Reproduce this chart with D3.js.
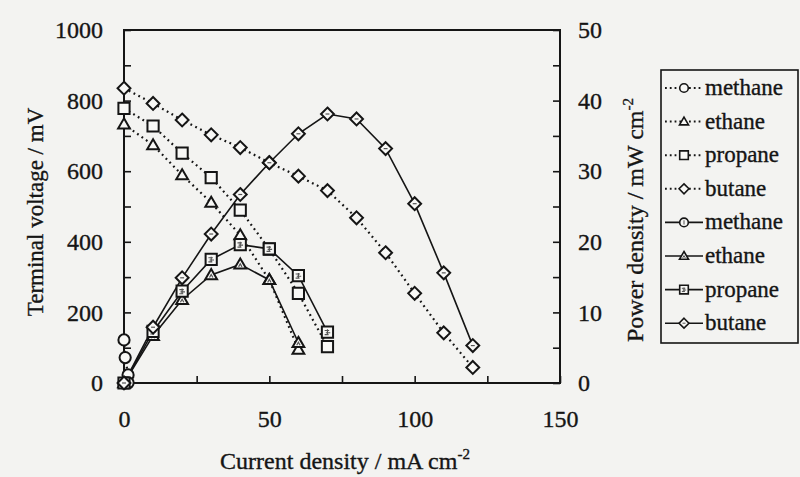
<!DOCTYPE html>
<html><head><meta charset="utf-8">
<script src="https://cdn.jsdelivr.net/npm/d3@7"></script>
<style>
body{margin:0;background:#f3f3f1;}
</style>
</head><body><svg id="c" width="800" height="477"></svg>
<script>
// ---- data ----
const methaneCurrent = [0, 0.4, 1.4];
const methaneVoltage = [122, 72, 23];
const methanePower   = [0, 0.03, 0.03];

const ethaneCurrent = [0, 10, 20, 30, 40, 50, 60];
const ethaneVoltage = [733, 674, 589, 511, 419, 292, 95];
const ethanePower   = [0, 6.7, 11.8, 15.3, 16.8, 14.6, 5.7];

const propaneCurrent = [0, 10, 20, 30, 40, 50, 60, 70];
const propaneVoltage = [778, 728, 651, 582, 490, 379, 254, 103];
const propanePower   = [0, 7.3, 13.0, 17.5, 19.6, 19.0, 15.2, 7.2];

const butaneCurrent = [0, 10, 20, 30, 40, 50, 60, 70, 80, 90, 100, 110, 120];
const butaneVoltage = [835, 792, 745, 703, 667, 624, 586, 545, 468, 369, 254, 142, 44];
const butanePower   = [0, 7.9, 14.9, 21.1, 26.7, 31.2, 35.3, 38.1, 37.4, 33.2, 25.4, 15.6, 5.3];

const xTicks = [0, 25, 50, 75, 100, 125, 150];
const xLabels = [0, 50, 100, 150];
const yLeftTicks = [0,100,200,300,400,500,600,700,800,900,1000];
const yLeftLabels = [0,200,400,600,800,1000];
const yRightTicks = [0,5,10,15,20,25,30,35,40,45,50];
const yRightLabels = [0,10,20,30,40,50];

const seriesV = [
  {name:"methane", shape:"circle", x:methaneCurrent, y:methaneVoltage},
  {name:"ethane", shape:"triangle", x:ethaneCurrent, y:ethaneVoltage},
  {name:"propane", shape:"square", x:propaneCurrent, y:propaneVoltage},
  {name:"butane", shape:"diamond", x:butaneCurrent, y:butaneVoltage}
];
const seriesP = [
  {name:"methane", shape:"circle", x:methaneCurrent, y:methanePower},
  {name:"ethane", shape:"triangle", x:ethaneCurrent, y:ethanePower},
  {name:"propane", shape:"square", x:propaneCurrent, y:propanePower},
  {name:"butane", shape:"diamond", x:butaneCurrent, y:butanePower}
];

// ---- layout ----
const FONT = "Liberation Serif, DejaVu Serif, Times New Roman, serif";
const L = 124, R = 560, T = 30, B = 383;
const svg = d3.select("#c");
svg.append("rect").attr("width",800).attr("height",477).attr("fill","#f3f3f1");

const x = d3.scaleLinear().domain([0,150]).range([L,R]);
const yL = d3.scaleLinear().domain([0,1000]).range([B,T]);
const yR = d3.scaleLinear().domain([0,50]).range([B,T]);

const ink = "#151515";
const fs = 24;
const textStroke = 0.35;

function styleAxis(g){
  g.select(".domain").remove();
  g.attr("font-family",FONT).attr("font-size",fs);
  g.selectAll(".tick line").attr("stroke",ink).attr("stroke-width",1.6);
  g.selectAll(".tick text").attr("font-size",fs).attr("fill",ink).attr("font-family",FONT)
    .attr("stroke",ink).attr("stroke-width",textStroke);
}

svg.append("g").attr("transform",`translate(0,${B})`)
  .call(d3.axisBottom(x).tickValues(xTicks).tickSize(-7).tickPadding(27)
    .tickFormat(d => xLabels.includes(d) ? d : ""))
  .call(styleAxis);

svg.append("g").attr("transform",`translate(${L},0)`)
  .call(d3.axisLeft(yL).tickValues(yLeftTicks).tickSize(-7).tickPadding(21)
    .tickFormat(d => yLeftLabels.includes(d) ? d : ""))
  .call(styleAxis);

svg.append("g").attr("transform",`translate(${R},0)`)
  .call(d3.axisRight(yR).tickValues(yRightTicks).tickSize(-7).tickPadding(18)
    .tickFormat(d => yRightLabels.includes(d) ? d : ""))
  .call(styleAxis);

// frame
svg.append("rect").attr("x",L).attr("y",T).attr("width",R-L).attr("height",B-T)
  .attr("fill","none").attr("stroke",ink).attr("stroke-width",2);

// ---- marker shapes ----
function shapePath(shape, s){
  switch(shape){
    case "circle": return `M${-s},0A${s},${s} 0 1,0 ${s},0A${s},${s} 0 1,0 ${-s},0Z`;
    case "triangle": return `M0,${-s*1.05}L${s*1.05},${s*0.75}L${-s*1.05},${s*0.75}Z`;
    case "square": return `M${-s},${-s}H${s}V${s}H${-s}Z`;
    case "diamond": return `M0,${-s*1.15}L${s*1.15},0L0,${s*1.15}L${-s*1.15},0Z`;
  }
}
function innerPath(shape, s){
  switch(shape){
    case "circle": return `M0,${-s*0.5}V${s*0.5}`;
    case "triangle": return `M${-s*0.3},${s*0.45}L0,${-s*0.1}L${s*0.3},${s*0.45}`;
    case "square": return `M${-s*0.5},${-s*0.3}H${s*0.3}M${-s*0.3},${s*0.1}H${s*0.5}M${-s*0.5},${s*0.45}H${s*0.2}M0,${-s*0.5}V${s*0.5}`;
    case "diamond": return `M${-s*0.35},0H${s*0.35}`;
  }
}

const plotG = svg.append("g");
const lineV = d3.line().x(d=>x(d[0])).y(d=>yL(d[1]));
const lineP = d3.line().x(d=>x(d[0])).y(d=>yR(d[1]));

seriesV.forEach(s=>{
  const pts = s.x.map((v,i)=>[v, s.y[i]]);
  plotG.append("path").datum(pts).attr("d",lineV).attr("fill","none")
    .attr("stroke",ink).attr("stroke-width",2.2).attr("stroke-dasharray","1.8,3.6");
});
seriesP.forEach(s=>{
  const pts = s.x.map((v,i)=>[v, s.y[i]]);
  plotG.append("path").datum(pts).attr("d",lineP).attr("fill","none")
    .attr("stroke",ink).attr("stroke-width",1.6);
});

const ms = 5.6;
seriesV.forEach(s=>{
  const pts = s.x.map((v,i)=>[v, s.y[i]]);
  plotG.selectAll(null).data(pts).enter().append("path")
    .attr("transform",d=>`translate(${x(d[0])},${yL(d[1])})`)
    .attr("d",shapePath(s.shape, ms)).attr("fill","#f8f8f6")
    .attr("stroke",ink).attr("stroke-width",2);
});
seriesP.forEach(s=>{
  const pts = s.x.map((v,i)=>[v, s.y[i]]);
  const g = plotG.selectAll(null).data(pts).enter().append("g")
    .attr("transform",d=>`translate(${x(d[0])},${yR(d[1])})`);
  g.append("path").attr("d",shapePath(s.shape, ms)).attr("fill","#f8f8f6")
    .attr("stroke",ink).attr("stroke-width",2);
  g.append("path").attr("d",innerPath(s.shape, ms)).attr("fill","none")
    .attr("stroke","#555").attr("stroke-width",1.2);
});

// ---- titles ----
function txt(sel){ return sel.attr("font-family",FONT).attr("fill",ink).attr("stroke",ink).attr("stroke-width",textStroke); }

const xt = txt(svg.append("text")).attr("x",(L+R)/2+3).attr("y",469)
  .attr("text-anchor","middle").attr("font-size",24);
xt.append("tspan").text("Current density / mA cm");
xt.append("tspan").attr("dy",-10).attr("font-size",15).text("-2");

txt(svg.append("text")).attr("transform","translate(43,212) rotate(-90)")
  .attr("text-anchor","middle").attr("font-size",23)
  .text("Terminal voltage / mV");

const rt = txt(svg.append("text")).attr("transform","translate(643,220) rotate(-90)")
  .attr("text-anchor","middle").attr("font-size",24);
rt.append("tspan").text("Power density / mW cm");
rt.append("tspan").attr("dy",-10).attr("font-size",15).text("-2");

// ---- legend ----
const legX = 661, legY = 70, legW = 137, legH = 273;
svg.append("rect").attr("x",legX).attr("y",legY).attr("width",legW).attr("height",legH)
  .attr("fill","none").attr("stroke",ink).attr("stroke-width",1.6);

const legItems = seriesV.map(s=>({name:s.name, shape:s.shape, dotted:true}))
  .concat(seriesP.map(s=>({name:s.name, shape:s.shape, dotted:false})));
const legStep = 33.6, leg0 = 88;
legItems.forEach((it,i)=>{
  const cy = leg0 + i*legStep;
  const g = svg.append("g");
  g.append("line").attr("x1",665).attr("x2",703).attr("y1",cy).attr("y2",cy)
    .attr("stroke",ink).attr("stroke-width",it.dotted?2:1.6)
    .attr("stroke-dasharray",it.dotted?"1.8,3":null);
  g.append("path").attr("transform",`translate(684,${cy})`)
    .attr("d",shapePath(it.shape,4.3)).attr("fill","#f8f8f6")
    .attr("stroke",ink).attr("stroke-width",1.6);
  if(!it.dotted){
    g.append("path").attr("transform",`translate(684,${cy})`)
      .attr("d",innerPath(it.shape,4.3)).attr("fill","none")
      .attr("stroke","#555").attr("stroke-width",1);
  }
  txt(g.append("text")).attr("x",705).attr("y",cy+7).attr("font-size",23).text(it.name);
});
</script>
</body></html>
